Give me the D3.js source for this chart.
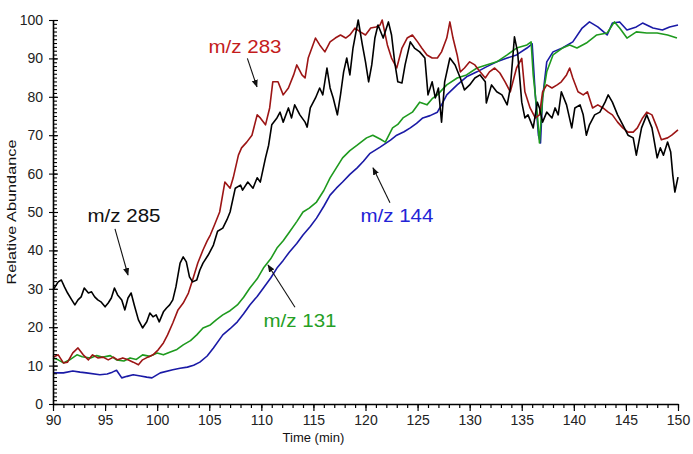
<!DOCTYPE html>
<html>
<head>
<meta charset="utf-8">
<script src="https://cdn.jsdelivr.net/npm/d3@7"></script>
<style>
  html, body { margin: 0; padding: 0; background: #fff; }
  svg { display: block; font-family: "Liberation Sans", Arial, sans-serif; }
</style>
</head>
<body>
<svg id="chart" width="693" height="454"></svg>
<script>
// ---- data (time in min, relative abundance) ----
const mz285 = [
  [90.0,29.7],[90.5,31.8],[90.8,32.3],[91.1,30.5],[91.4,28.9],[91.8,27.1],[92.1,25.8],[92.4,27.1],[92.7,27.9],[93.0,30.2],
  [93.4,28.9],[93.7,29.2],[94.0,27.9],[94.3,27.1],[94.6,26.6],[95.0,25.3],[95.3,26.3],[95.6,27.6],[95.9,30.2],[96.2,28.4],
  [96.6,27.1],[96.9,24.5],[97.2,27.6],[97.5,28.9],[97.8,25.8],[98.2,21.9],[98.6,19.8],[99.0,21.4],[99.3,23.7],[99.6,22.7],
  [99.9,23.2],[100.2,21.4],[100.6,24],[100.9,25],[101.2,25.8],[101.5,27.1],[101.8,30.5],[102.2,36.7],[102.5,38.3],[102.8,37],
  [103.1,33.1],[103.4,31.8],[103.8,32.3],[104.1,34.9],[104.4,36.7],[104.9,38.8],[105.4,41.4],[105.8,45],[106.3,45.8],[106.7,48],
  [107.0,50],[107.5,56.2],[108.0,57],[108.2,55.7],[108.7,57.8],[109.2,56.2],[109.6,58.9],[109.9,57.8],[110.4,64.1],[110.7,67.4],
  [111.0,72.7],[111.5,74.5],[111.8,76],[112.1,73.4],[112.6,77.1],[112.9,74.5],[113.2,77.9],[113.7,75.3],[114.2,73.4],[114.4,72.1],
  [114.7,77.1],[115.2,79.7],[115.6,82.3],[115.9,80.5],[116.3,87.5],[116.6,82.3],[116.9,79.7],[117.3,75.3],[117.6,80.5],[117.9,86.5],
  [118.2,90.1],[118.5,85.7],[118.8,92.7],[119.3,100],[119.7,93.5],[120.0,89.1],[120.3,83.9],[120.6,88.3],[120.9,95.3],[121.2,98.7],
  [121.7,95.3],[122.2,99.5],[122.5,96.1],[122.8,89.1],[123.1,83.9],[123.5,83.6],[123.8,88.3],[124.3,94.3],[124.7,92.7],[125.2,91.7],
  [125.7,90.1],[126.0,80.5],[126.4,83.9],[126.7,79.7],[127.0,82.3],[127.3,73.4],[127.6,83.9],[128.1,90.1],[128.6,88.3],[129.1,84.9],
  [129.5,81.8],[130.0,83.1],[130.5,84.9],[131.0,85.7],[131.5,83.9],[131.6,78.4],[132.1,83.1],[132.6,81.3],[133.1,80.5],[133.6,77.9],
  [133.9,82.3],[134.3,95.6],[134.6,91.7],[135.0,78.6],[135.3,74.5],[135.6,75.3],[136.1,71.9],[136.5,78.6],[136.7,77.1],[137.0,73.4],
  [137.4,76],[137.9,74.5],[138.2,77.1],[138.5,75.3],[138.8,81.3],[139.3,77.9],[139.8,71.9],[140.1,77.1],[140.6,77.9],[140.9,75.3],
  [141.2,70],[141.5,72.7],[142.0,75.3],[142.5,76],[143.0,78.6],[143.3,80.5],[143.7,78.6],[144.2,75.3],[144.7,72.7],[145.2,70],
  [145.7,69.3],[146.0,64.8],[146.5,71.9],[147.0,75.3],[147.5,71.9],[148.0,64.1],[148.3,66.7],[148.6,64.8],[149.0,68.2],[149.3,65.6],
  [149.5,59.6],[149.7,55.2],[150.0,59.1]
];
const mz283 = [
  [90.0,12.2],[90.5,12.8],[91.0,10.7],[91.4,10.9],[91.9,13.3],[92.4,14.6],[92.9,12.8],[93.4,11.5],[93.8,12.8],[94.3,12],
  [94.8,12.2],[95.3,11.5],[95.8,12.2],[96.2,11.5],[96.7,12],[97.2,11.5],[97.7,10.9],[98.2,10.2],[98.6,11.5],[99.1,12.2],
  [99.6,12.8],[100.1,14.1],[100.6,15.9],[101.0,18],[101.5,21.1],[102.0,24.5],[102.5,26.3],[103.0,28.9],[103.4,32.3],[103.9,36.7],
  [104.4,40.1],[104.8,42.5],[105.1,44],[105.5,46.6],[106.0,50],[106.5,57.8],[107.0,56.2],[107.3,58.9],[107.8,64.8],[108.1,66.7],
  [108.6,68.2],[109.1,70],[109.6,75.3],[109.9,74.5],[110.4,72.7],[110.8,77.1],[111.1,83.9],[111.6,83.9],[112.1,80.5],[112.6,82.3],
  [113.1,85.7],[113.4,88.3],[113.9,85.7],[114.2,84.9],[114.5,90.1],[115.2,95.3],[115.6,93.5],[116.1,91.7],[116.6,94.3],[117.1,95.3],
  [117.6,96.1],[118.1,95.3],[118.5,96.1],[119.0,97.9],[119.5,96.9],[120.0,96.1],[120.5,97.9],[121.0,98.2],[121.4,98.7],[121.6,100],
  [122.1,93.5],[122.5,90.1],[123.0,87.5],[123.5,92.7],[124.0,95.3],[124.5,96.1],[125.0,94.3],[125.4,92.7],[125.9,90.9],[126.4,90.1],
  [126.9,90.1],[127.3,91.7],[127.8,95.3],[128.1,99.5],[128.4,95.3],[128.8,90.9],[129.1,86.5],[129.5,87.5],[130.0,89.1],[130.5,88.3],
  [131.0,86.5],[131.5,84.9],[131.9,86.5],[132.4,87.5],[132.9,86.2],[133.4,83.9],[133.9,81.3],[134.5,87.5],[135.0,90],[135.3,81.3],
  [135.8,77.1],[136.3,74.5],[136.7,75.3],[137.0,81.3],[137.4,83.1],[137.9,82.3],[138.4,83.1],[138.8,83.9],[139.3,85.7],[139.6,87.5],
  [139.9,84.9],[140.4,81.3],[140.9,80.5],[141.3,81.3],[141.8,77.1],[142.3,77.9],[142.8,77.1],[143.3,76],[143.7,75.3],[144.2,73.4],
  [144.7,71.9],[145.2,70.8],[145.7,70.8],[146.1,71.9],[146.6,74.5],[147.0,76],[147.5,75.3],[148.0,71.9],[148.4,68.8],[149.0,69.3],
  [149.4,70],[150.0,71.4]
];
const mz131 = [
  [90.0,12],[90.5,11.5],[91.0,10.7],[91.6,11.5],[92.3,12.8],[92.8,12.3],[93.6,12],[94.2,12.6],[94.8,12.2],[95.5,12.6],
  [96.1,11.5],[96.8,11.2],[97.4,12],[98.0,11.6],[98.6,12.8],[99.3,12.4],[100.0,13.3],[100.6,12.8],[101.2,13.5],[101.9,14.2],
  [102.5,15.4],[103.2,16.5],[103.8,18],[104.4,19.8],[105.1,20.6],[105.7,22],[106.3,23.2],[107.0,24.3],[107.7,25.8],[108.3,27.8],
  [108.9,30.2],[109.6,32.6],[110.2,35.4],[110.9,37.8],[111.5,40.6],[112.1,42.5],[112.7,44.8],[113.4,47.5],[114.0,50],[114.6,51],
  [115.3,52.6],[116.0,55.6],[116.6,58.9],[117.2,61.5],[117.8,64.1],[118.5,66],[119.2,67.4],[120.1,69.3],[120.7,70],[121.4,69],
  [121.9,68.2],[122.6,71.9],[123.1,72.8],[123.6,74.5],[124.5,76],[125.2,78.6],[125.9,77.9],[126.4,79.5],[126.9,80.5],[127.8,83.1],
  [128.8,84.9],[129.7,85.7],[130.7,87.5],[131.6,88.3],[132.6,89.1],[133.6,90.9],[134.5,92.7],[135.5,93.5],[135.9,94.3],[136.1,85.7],
  [136.5,75.3],[136.7,68],[137.0,79.7],[137.4,86.5],[138.0,90.9],[138.9,92.7],[139.6,93.5],[140.3,92.7],[141.2,94],[142.2,96.1],
  [143.2,96.6],[143.9,99.5],[144.4,97.9],[145.1,95.3],[146.0,96.9],[147.0,96.6],[148.0,96.6],[149.0,96.1],[149.9,95.3]
];
const mz144 = [
  [90.0,8.1],[91.0,8.1],[91.9,8.6],[92.6,8.3],[93.2,8.1],[94.5,7.6],[95.2,7.8],[95.7,8.3],[96.1,8.8],[96.6,6.8],
  [97.1,7.2],[97.7,7.6],[98.4,7.3],[99.0,7],[99.5,6.8],[100.3,8.1],[101.5,8.9],[102.2,9.3],[102.9,9.6],[103.5,10.1],
  [104.1,10.9],[104.8,12.5],[105.4,14.6],[106.3,18],[107.0,19.6],[107.7,21.4],[108.3,23.5],[108.9,25.8],[109.6,28],[110.2,30.2],
  [110.9,32.8],[111.5,35.4],[112.1,37.4],[112.7,39.6],[113.4,41.8],[114.0,44],[114.7,46.2],[115.3,48.4],[116.0,51.5],[116.6,54.4],
  [117.2,56.2],[117.8,57.8],[118.5,59.8],[119.2,61.5],[119.8,63.2],[120.4,65.2],[121.4,66.9],[122.4,68.7],[123.0,70],[123.7,70.9],
  [124.3,71.9],[124.9,73.1],[125.5,74.5],[126.2,75.1],[126.9,76],[127.4,78.4],[127.8,80.5],[128.8,83.1],[129.7,85.2],[130.7,86.5],
  [131.6,87.8],[132.6,89.1],[133.6,90.1],[134.5,90.9],[135.5,92.7],[136.0,93.8],[136.3,80.5],[136.6,70],[136.8,68],[137.0,79.7],
  [137.4,89.1],[138.0,91.7],[138.9,92.7],[139.9,94.3],[140.8,97.9],[141.5,99.5],[142.3,98.2],[143.2,96.1],[143.7,99.2],[144.4,99.5],
  [145.1,97.4],[146.0,98.2],[146.6,99.2],[147.6,97.9],[148.5,97.4],[149.2,98.2],[150.0,98.7]
];

const seriesNames = ["m/z 144", "m/z 131", "m/z 283", "m/z 285"];
const seriesData  = [mz144, mz131, mz283, mz285];
const seriesColors = ["#1a1aa6", "#1e9a1e", "#9c1515", "#000000"];

const xTicks = [90, 95, 100, 105, 110, 115, 120, 125, 130, 135, 140, 145, 150];
const yTicks = [0, 10, 20, 30, 40, 50, 60, 70, 80, 90, 100];
const xTitle = "Time (min)";
const yTitle = "Relative Abundance";

// annotations: label at (time, abundance), arrow from -> to in data units
const labelTexts  = ["m/z 283", "m/z 285", "m/z 144", "m/z 131"];
const labelColors = ["#c41c1c", "#111111", "#2323d6", "#25a025"];
const labelPos    = [[108.43, 91.4], [96.82, 47.4], [123.02, 47.4], [113.71, 20.1]];
const arrowFrom   = [[108.66, 90.0], [95.95, 45.6], [122.35, 52.4], [113.23, 25.2]];
const arrowTo     = [[109.58, 82.6], [97.2, 33.6], [120.72, 61.5], [110.64, 36.2]];

// ---- layout ----
const svg = d3.select("#chart");
const x = d3.scaleLinear().domain([90, 150]).range([53, 678]);
const y = d3.scaleLinear().domain([0, 100]).range([404, 20]);

// data lines
const line = d3.line().x(d => x(d[0])).y(d => y(d[1])).curve(d3.curveLinear);
svg.append("g").selectAll("path")
  .data(seriesData)
  .join("path")
  .attr("d", line)
  .attr("fill", "none")
  .attr("stroke", (d, i) => seriesColors[i])
  .attr("stroke-width", 1.6)
  .attr("stroke-linejoin", "round");

// x axis
const xMinor = d3.range(90, 151, 1);
const gx = svg.append("g").attr("transform", `translate(0,${y(0)})`);
gx.call(d3.axisBottom(x).tickValues(xMinor).tickSize(4).tickSizeOuter(0).tickFormat(""));
gx.append("g").call(d3.axisBottom(x).tickValues(xTicks).tickSize(7).tickSizeOuter(0).tickPadding(4).tickFormat(d3.format("d")))
  .call(g => g.select(".domain").remove());
gx.selectAll("path.domain").attr("stroke-width", 1.6);
gx.selectAll("line").attr("stroke-width", 1.2);
gx.selectAll("text").attr("font-size", 14).attr("fill", "#222").attr("font-family", "'Liberation Sans', Arial, sans-serif");

// y axis
const yMinor = d3.range(0, 101, 1);
const gy = svg.append("g").attr("transform", `translate(${x(90)},0)`);
gy.call(d3.axisLeft(y).tickValues(yMinor).tickSize(-4).tickSizeOuter(0).tickFormat(""));
gy.append("g").call(d3.axisLeft(y).tickValues(yTicks).tickSize(-5).tickSizeOuter(0).tickPadding(10).tickFormat(d3.format("d")))
  .call(g => g.select(".domain").remove())
  .call(g => g.selectAll(".tick line").attr("x1", -4));
gy.selectAll("path.domain").attr("stroke-width", 1.6);
gy.selectAll("line").attr("stroke-width", 1.1);
gy.selectAll("text").attr("font-size", 14).attr("fill", "#222").attr("font-family", "'Liberation Sans', Arial, sans-serif");

// axis titles
svg.append("text")
  .attr("x", x(115)).attr("y", y(0) + 38)
  .attr("text-anchor", "middle")
  .attr("font-size", 13).attr("fill", "#111")
  .text(xTitle);
svg.append("text")
  .attr("transform", `translate(16,${y(50)}) rotate(-90)`)
  .attr("text-anchor", "middle")
  .attr("font-size", 12).attr("fill", "#111")
  .attr("textLength", 145).attr("lengthAdjust", "spacingAndGlyphs")
  .text(yTitle);

// arrows
svg.append("defs").append("marker")
  .attr("id", "ah").attr("viewBox", "0 0 10 10").attr("refX", 9).attr("refY", 5)
  .attr("markerWidth", 7).attr("markerHeight", 7).attr("orient", "auto")
  .append("path").attr("d", "M0,1 L10,5 L0,9 Z").attr("fill", "#111");

svg.append("g").selectAll("line")
  .data(labelTexts)
  .join("line")
  .attr("x1", (d, i) => x(arrowFrom[i][0])).attr("y1", (d, i) => y(arrowFrom[i][1]))
  .attr("x2", (d, i) => x(arrowTo[i][0])).attr("y2", (d, i) => y(arrowTo[i][1]))
  .attr("stroke", "#111").attr("stroke-width", 1.1)
  .attr("marker-end", "url(#ah)");

svg.append("g").selectAll("text")
  .data(labelTexts)
  .join("text")
  .attr("x", (d, i) => x(labelPos[i][0]))
  .attr("y", (d, i) => y(labelPos[i][1]))
  .attr("text-anchor", "middle")
  .attr("font-size", 18)
  .attr("fill", (d, i) => labelColors[i])
  .attr("textLength", 73).attr("lengthAdjust", "spacingAndGlyphs")
  .text(d => d);
</script>
</body>
</html>
